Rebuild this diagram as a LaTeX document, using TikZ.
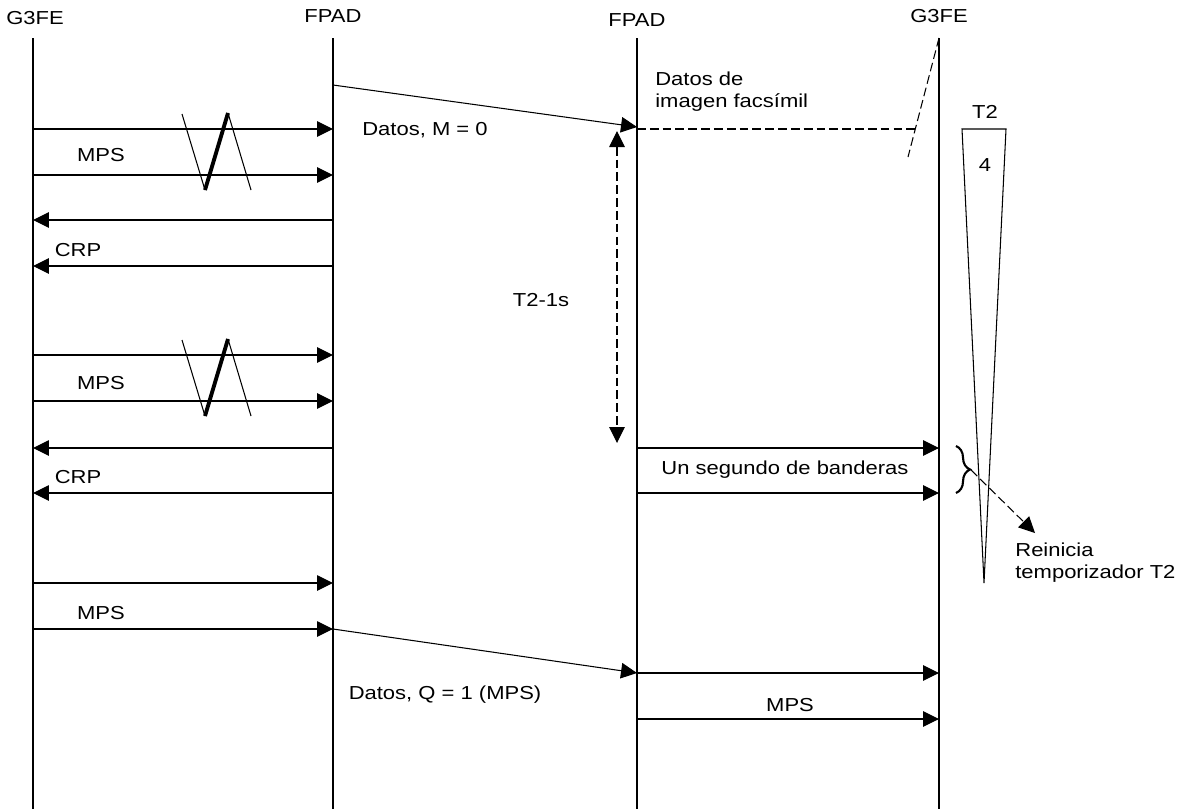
\documentclass[tikz,border=0pt]{standalone}
\usepackage{fontspec}
\setmainfont{Liberation Sans}[FakeStretch=1.17]
\usetikzlibrary{arrows.meta,decorations.pathreplacing}

\tikzset{
  msg/.style={-{Triangle[length=3.2mm,width=3.1mm]},line width=0.6pt},
  life/.style={line width=0.6pt},
  lbl/.style={font=\fontsize{10.7}{12.2}\selectfont,inner sep=0pt},
  brk/.style={line width=0.6pt},
  dsh/.style={line width=0.6pt,dash pattern=on 5pt off 2.3pt},
}

\begin{document}
\begin{tikzpicture}[x=0.02cm,y=-0.02cm]
        \useasboundingbox (0,0) rectangle (1182,809);
        % lifelines
        \node[lbl] (ga) at (35,18) {G3FE};
        \node[lbl] (fa) at (333,16) {FPAD};
        \node[lbl] (fb) at (637,20) {FPAD};
        \node[lbl] (gb) at (939,16) {G3FE};
        \foreach \n/\x in {A/33,B/333,C/637,D/939} {
          \coordinate (\n top) at (\x,38);
          \coordinate (\n bot) at (\x,809);
          \draw[life] (\n top) -- (\n bot);
        }
        % points on the lifelines
        \foreach \y in {129,175,220,266,355,401,448,493,583,629}
          \path (33,\y) coordinate (A\y) (333,\y) coordinate (B\y);
        \foreach \y in {127,448,493,673,719}
          \path (637,\y) coordinate (C\y) (939,\y) coordinate (D\y);
        \coordinate (B85) at (333,85);
        % G3FE <-> FPAD
        \foreach \y in {129,175,355,401,583,629}
          \draw[msg] (A\y) -- (B\y);
        \foreach \y in {220,266,448,493}
          \draw[msg] (B\y) -- (A\y);
        \node[lbl] (mps1) at (101,155) {MPS};
        \node[lbl] (crp1) at (78,250) {CRP};
        \node[lbl] (mps2) at (101,383) {MPS};
        \node[lbl] (crp2) at (78,477) {CRP};
        \node[lbl] (mps3) at (101,613) {MPS};
        % breaks
        \foreach \d in {0,226} {
          \draw[brk] (182,114+\d) -- (205,190+\d);
          \draw[line width=2.2pt] (205,190+\d) -- (228,113+\d);
          \draw[brk] (228,113+\d) -- (251,190+\d);
        }
        % FPAD -> FPAD
        \draw[msg] (B85) -- (C127);
        \node[lbl,anchor=west] (dm) at (362,130) {Datos, M = 0};
        \draw[msg] (B629) -- (C673);
        \node[lbl] (dq) at (445,695) {Datos, Q = 1 (MPS)};
        % facsimile data, lost
        \coordinate (fx) at (917,129);
        \draw[dsh] (637,129) -- (fx);
        \draw[dsh] (Dtop) -- (908,157);
        \node[lbl,anchor=north west,align=left] (dfx) at (655,72)
          {Datos de\\imagen facsímil};
        % T2-1s
        \coordinate (tt) at (617,131);
        \coordinate (tb) at (617,443);
        \draw[dsh,{Triangle[length=3.2mm,width=3.1mm]}-{Triangle[length=3.2mm,width=3.1mm]}]
          (tt) -- (tb);
        \node[lbl] (t21) at (541,300) {T2-1s};
        % FPAD -> G3FE
        \foreach \y in {448,493,673,719}
          \draw[msg] (C\y) -- (D\y);
        \node[lbl] (flags) at (785,470) {Un segundo de banderas};
        \node[lbl] (mps4) at (790,705) {MPS};
        % timer T2
        \draw[life] (962,129) -- (1006,129) -- (984,583) -- cycle;
        \node[lbl] (t2) at (985,112) {T2};
        \node[lbl] (four) at (985,165) {4};
        \draw[line width=1.2pt,decorate,decoration={brace,amplitude=8pt}]
          (956,446) -- (956,493);
        \coordinate (bt) at (971,470);
        \node[lbl,anchor=north west,align=left] (rei) at (1015,543)
          {Reinicia\\temporizador T2};
        \coordinate (rt) at (1035,533);
        \draw[dsh,-{Triangle[length=3.2mm,width=3.1mm]}] (bt) -- (rt);
\end{tikzpicture}
\end{document}
